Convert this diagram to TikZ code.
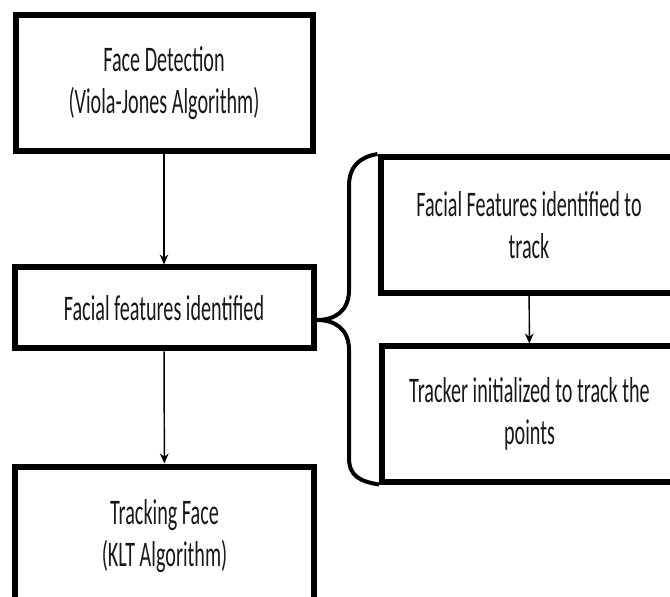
\documentclass[tikz,border=0pt]{standalone}
\usepackage{fontspec}
\setmainfont{Carlito}[FakeStretch=0.56]
\usepackage{tikz}
\usetikzlibrary{arrows.meta}

\begin{document}
\begin{tikzpicture}[x=0.75pt, y=0.75pt, >={Stealth[length=7.5pt,width=6.5pt]},
		font=\fontsize{27pt}{31.5pt}\selectfont,
		stagebox/.style={draw, line width=4.5pt, align=center, inner sep=0pt, text=black!90},
		flow/.style={->, line width=1.1pt},
		bracelines/.style={line width=3pt, line join=round}]
			\useasboundingbox (0,0) rectangle (670,596);
			\clip (0,0) rectangle (670,596);
			% left column
			\node[stagebox, minimum width=222.75pt, minimum height=102pt] (detect) at (164,513) {Face Detection\\(Viola-Jones Algorithm)};
			\node[stagebox, minimum width=224.25pt, minimum height=60.75pt] (features) at (164,288) {Facial features identified};
			\node[stagebox, minimum width=224.25pt, minimum height=104.25pt] (tracking) at (164.5,60) {Tracking Face\\(KLT Algorithm)};
			% right column
			\node[stagebox, minimum width=222.75pt, minimum height=102pt] (fea) at (529,371) {Facial Features identified to\\track};
			\node[stagebox, minimum width=221.25pt, minimum height=101.25pt] (trk) at (529.5,182) {Tracker initialized to track the\\points};
			\draw[flow] (detect) -- (features);
			\draw[flow] (features) -- (tracking);
			\draw[flow] (fea) -- (trk);
			% brace
			\coordinate (brtip) at (317,276);
			\draw[bracelines] (fea.north west) .. controls (360,439) and (349,430) .. (349,410) -- (349,306)
				.. controls (349,285) and (335,276) .. (brtip) .. controls (335,276) and (349,267) .. (349,246)
				-- (349,138) .. controls (349,120) and (360,114.5) .. (trk.south west);
		\end{tikzpicture}
\end{document}
